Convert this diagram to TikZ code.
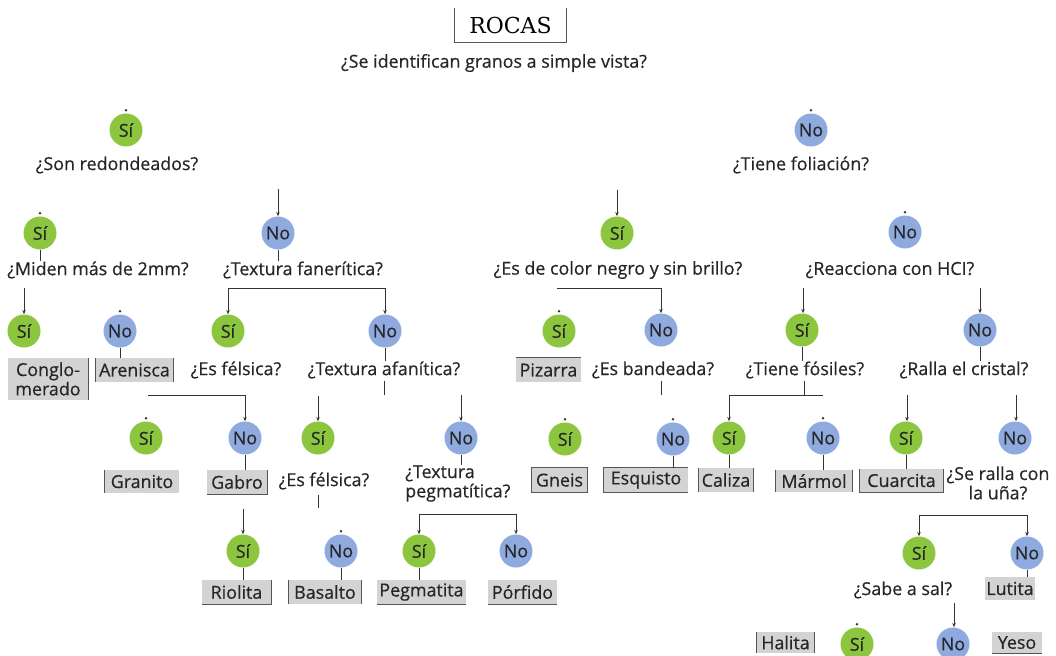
\documentclass[tikz,border=0pt]{standalone}
\usepackage{fontspec}
\setmainfont{Open Sans}[FakeBold=0.5]
\newfontfamily\titlefont{DejaVu Serif}
\usetikzlibrary{arrows.meta,calc}
\definecolor{sigreen}{HTML}{8CC63E}
\definecolor{noblue}{HTML}{8FAADF}
\definecolor{boxgray}{HTML}{D3D3D3}
\definecolor{linec}{HTML}{333333}
\definecolor{bordc}{HTML}{555555}
\newcommand\qf{\fontsize{13.4}{14.5}\selectfont}
\newcommand\tipdot[1]{\fill[linec] ($(#1.north)+(0,-3)$) circle[radius=1.1pt];}
\tikzset{
  yes/.style={circle, fill=sigreen, minimum size=24.75pt, inner sep=0pt, font=\qf, text=black!85},
  nop/.style={circle, fill=noblue, minimum size=24.75pt, inner sep=0pt, font=\qf, text=black!85},
  qq/.style={font=\qf, inner sep=0pt, align=center, text=black!85},
  rock/.style 2 args={fill=boxgray, inner sep=0pt, font=\qf, align=center, text=black!85,
     minimum width=#1*0.75pt, minimum height=#2*0.75pt},
  ln/.style={draw=linec, line width=0.7pt},
  arr/.style={draw=linec, line width=0.7pt, -{Stealth[length=3.2pt,width=2.6pt]}},
  bord/.style={draw=bordc, line width=0.9pt},
}
\begin{document}
\begin{tikzpicture}[x=0.75pt,y=-0.75pt]
\useasboundingbox (0,0) rectangle (1056,656);
\clip (0,0) rectangle (1056,656);

% title
\node[inner sep=0pt, minimum width=111*0.75pt, minimum height=34*0.75pt, font=\titlefont\fontsize{16.5}{18}\selectfont] (title) at (510.5,25) {ROCAS};
\draw[bord] (title.north west) -- (title.south west) -- (title.south east) -- (title.north east);
\node[qq] (q0) at (494,63) {¿Se identifican granos a simple vista?};

% ---------- left subtree ----------
\node[yes] (s1) at (126,130) {Sí}; \tipdot{s1}
\node[qq] (q1) at (117,165) {¿Son redondeados?};

\node[yes] (s2) at (40,233) {Sí}; \tipdot{s2}
\node[qq] (q2) at (98,270) {¿Miden más de 2mm?};
\draw[ln] (s2.south) -- (q2.north -| s2.south);
\node[yes] (s3) at (24,331) {Sí};
\coordinate (a3) at (24,288);
\draw[arr] (a3) -- (s3.north);
\node[nop] (n3) at (120,331) {No}; \tipdot{n3}
\node[rock={80}{42}] (cong) at (48,379) {Conglo-\\merado};
\draw[bord] (cong.north east) -- (cong.south east);
\node[rock={77}{24}] (aren) at (134.5,370) {Arenisca};
\draw[bord] (aren.north west) -- (aren.south west);
\draw[bord] (aren.north east) -- (aren.south east);
\draw[ln] (n3.south) -- (n3.south |- aren.north);

\coordinate (a4) at (278,189);
\node[nop] (n4) at (278,233) {No};
\draw[arr] (a4) -- (n4.north);
\node[qq] (q4) at (303,270) {¿Textura fanerítica?};
\draw[ln] (n4.south) -- (n4.south |- q4.north);
\coordinate (b4) at (306,288);
\node[yes] (s5) at (228,331) {Sí};
\node[nop] (n5) at (385,331) {No};
\draw[arr] (b4) -| (s5.north);
\draw[arr] (b4) -| (n5.north);
\node[qq] (q5) at (236,370) {¿Es félsica?};
\node[qq] (q6) at (384,370) {¿Textura afanítica?};
\draw[ln] (n5.south) -- (n5.south |- q6.north);
\coordinate (t6) at (384,395);
\draw[ln] (384,381) -- (t6);

\coordinate (b5) at (148,395);
\node[yes] (s7) at (146,438) {Sí}; \tipdot{s7}
\node[nop] (n7) at (245,438) {No};
\draw[arr] (b5) -| (n7.north);
\node[rock={74}{23}] (gran) at (142,481.5) {Granito};
\draw[bord] (gran.north west) -- (gran.south west);
\node[rock={60}{24}] (gabro) at (237,482) {Gabro};
\draw[bord] (gabro.south west) -- (gabro.south east) -- (gabro.north east);
\draw[ln] (n7.south) -- (n7.south |- gabro.north);

\coordinate (a8) at (243,509);
\node[yes] (s8) at (243,551) {Sí};
\draw[arr] (a8) -- (s8.north);
\node[rock={69}{24}] (riol) at (236.5,592) {Riolita};
\draw[bord] (riol.south west) -- (riol.south east) -- (riol.north east);
\draw[ln] (s8.south) -- (s8.south |- riol.north);

\coordinate (a9) at (318,396);
\node[yes] (s9) at (318,438) {Sí};
\draw[arr] (a9) -- (s9.north);
\node[qq] (q9) at (324,481) {¿Es félsica?};
\coordinate (t9) at (318,508);
\draw[ln] (318,495) -- (t9);
\node[nop] (n10) at (341,551) {No}; \tipdot{n10}
\node[rock={72}{24}] (basal) at (325,592) {Basalto};
\draw[bord] (basal.north west) -- (basal.south west);
\draw[bord] (basal.north east) -- (basal.south east);
\draw[ln] (n10.south) -- (n10.south |- basal.north);

\coordinate (a11) at (461,395);
\node[nop] (n11) at (461,438) {No};
\draw[arr] (a11) -- (n11.north);
\node[qq, align=left, anchor=north west] (q11) at (405,465) {¿Textura\\pegmatítica?};
\draw[ln] (n11.south) -- (n11.south |- q11.north);
\coordinate (b11) at (467,514);
\node[yes] (s12) at (419,551) {Sí};
\node[nop] (n12) at (516,551) {No};
\draw[arr] (b11) -| (s12.north);
\draw[arr] (b11) -| (n12.north);
\node[rock={89}{24}] (pegm) at (421.5,592) {Pegmatita};
\draw[bord] (pegm.south west) -- (pegm.south east);
\draw[ln] (s12.south) -- (s12.south |- pegm.north);
\node[rock={69}{24}] (porf) at (522.5,592) {Pórfido};
\draw[bord] (porf.south west) -- (porf.south east);

% ---------- right subtree ----------
\node[nop] (n13) at (811,130) {No}; \tipdot{n13}
\node[qq] (q13) at (801,165) {¿Tiene foliación?};

\coordinate (a14) at (617,190);
\node[yes] (s14) at (617,233) {Sí};
\draw[arr] (a14) -- (s14.north);
\node[qq] (q14) at (618,270) {¿Es de color negro y sin brillo?};
\coordinate (b14) at (557,288);
\node[yes] (s15) at (559,331) {Sí}; \tipdot{s15}
\node[nop] (n15) at (661,330) {No};
\draw[arr] (b14) -| (n15.north);
\node[rock={65}{24}] (piz) at (548.5,370) {Pizarra};
\draw[bord] (piz.north west) -- (piz.north east);
\node[qq] (q15) at (653,370) {¿Es bandeada?};
\coordinate (t15) at (661,395);
\draw[ln] (661,381) -- (t15);

\node[yes] (s16) at (565,439) {Sí}; \tipdot{s16}
\node[nop] (n16) at (673,439) {No}; \tipdot{n16}
\node[rock={55}{24}] (gneis) at (559.5,480) {Gneis};
\draw[bord] (gneis.north west) rectangle (gneis.south east);
\node[rock={84}{24}] (esq) at (646,480) {Esquisto};
\draw[bord] (esq.north east) -- (esq.north west) -- (esq.south west) -- (esq.south east);
\draw[ln] (n16.south) -- (n16.south |- esq.north);

\node[nop] (n17) at (905,232) {No}; \tipdot{n17}
\node[qq] (q17) at (890,270) {¿Reacciona con HCI?};
\coordinate (a18) at (803,288);
\coordinate (a19) at (980,288);
\node[yes] (s18) at (802,330) {Sí};
\node[nop] (n18) at (980,330) {No};
\draw[arr] (a18) -- (a18 |- s18.north);
\draw[arr] (a19) -- (n18.north);
\node[qq] (q18) at (805,370) {¿Tiene fósiles?};
\node[qq] (q19) at (964,370) {¿Ralla el cristal?};
\draw[ln] (s18.south) -- (s18.south |- q18.north);
\draw[ln] (n18.south) -- (n18.south |- q19.north);

\coordinate (j18) at (804,395);
\coordinate (e18) at (823,395);
\node[yes] (s20) at (729,438) {Sí};
\node[nop] (n20) at (823,438) {No}; \tipdot{n20}
\draw[ln] (804,381) -- (j18);
\draw[arr] (e18) -| (s20.north);
\node[rock={54}{24}] (cal) at (726,480) {Caliza};
\draw[bord] (cal.north west) -- (cal.south west);
\draw[bord] (cal.north east) -- (cal.south east);
\draw[ln] (s20.south) -- (s20.south |- cal.north);
\node[rock={76}{22}] (marm) at (814,481) {Mármol};
\draw[bord] (marm.north west) -- (marm.south west);
\draw[bord] (marm.north east) -- (marm.south east);
\draw[ln] (n20.south) -- (n20.south |- marm.north);

\coordinate (a21) at (907,395);
\coordinate (a22) at (1016,395);
\node[yes] (s21) at (906,438) {Sí};
\node[nop] (n21) at (1015,438) {No};
\draw[arr] (a21) -- (a21 |- s21.north);
\draw[arr] (a22) -- (a22 |- n21.north);
\node[rock={83}{23}] (cuar) at (901.5,480.5) {Cuarcita};
\draw[bord] (cuar.north west) -- (cuar.south west) -- (cuar.south east) -- (cuar.north east);
\draw[ln] (s21.south) -- (s21.south |- cuar.north);
\node[qq] (q21) at (998,483) {¿Se ralla con\\la uña?};

\coordinate (b21) at (973,515);
\node[yes] (s22) at (919,553) {Sí};
\node[nop] (n22) at (1027,553) {No};
\draw[arr] (b21) -| (s22.north);
\draw[arr] (b21) -| (n22.north);
\node[rock={50}{23}] (lut) at (1010,588.5) {Lutita};
\draw[ln] (n22.south) -- (n22.south |- lut.north);
\node[qq] (q22) at (903,590) {¿Sabe a sal?};

\coordinate (a23) at (954,603);
\node[yes] (s23) at (857,644) {Sí}; \tipdot{s23}
\node[nop] (n23) at (953,644) {No};
\draw[arr] (a23) -- (a23 |- n23.north);
\node[rock={57}{21}] (hal) at (785.5,642.5) {Halita};
\draw[bord] (hal.north west) -- (hal.south west);
\draw[bord] (hal.north east) -- (hal.south east);
\node[rock={50}{21}] (yeso) at (1017,642.5) {Yeso};
\draw[bord] (yeso.south west) -- (yeso.south east);
\end{tikzpicture}
\end{document}
